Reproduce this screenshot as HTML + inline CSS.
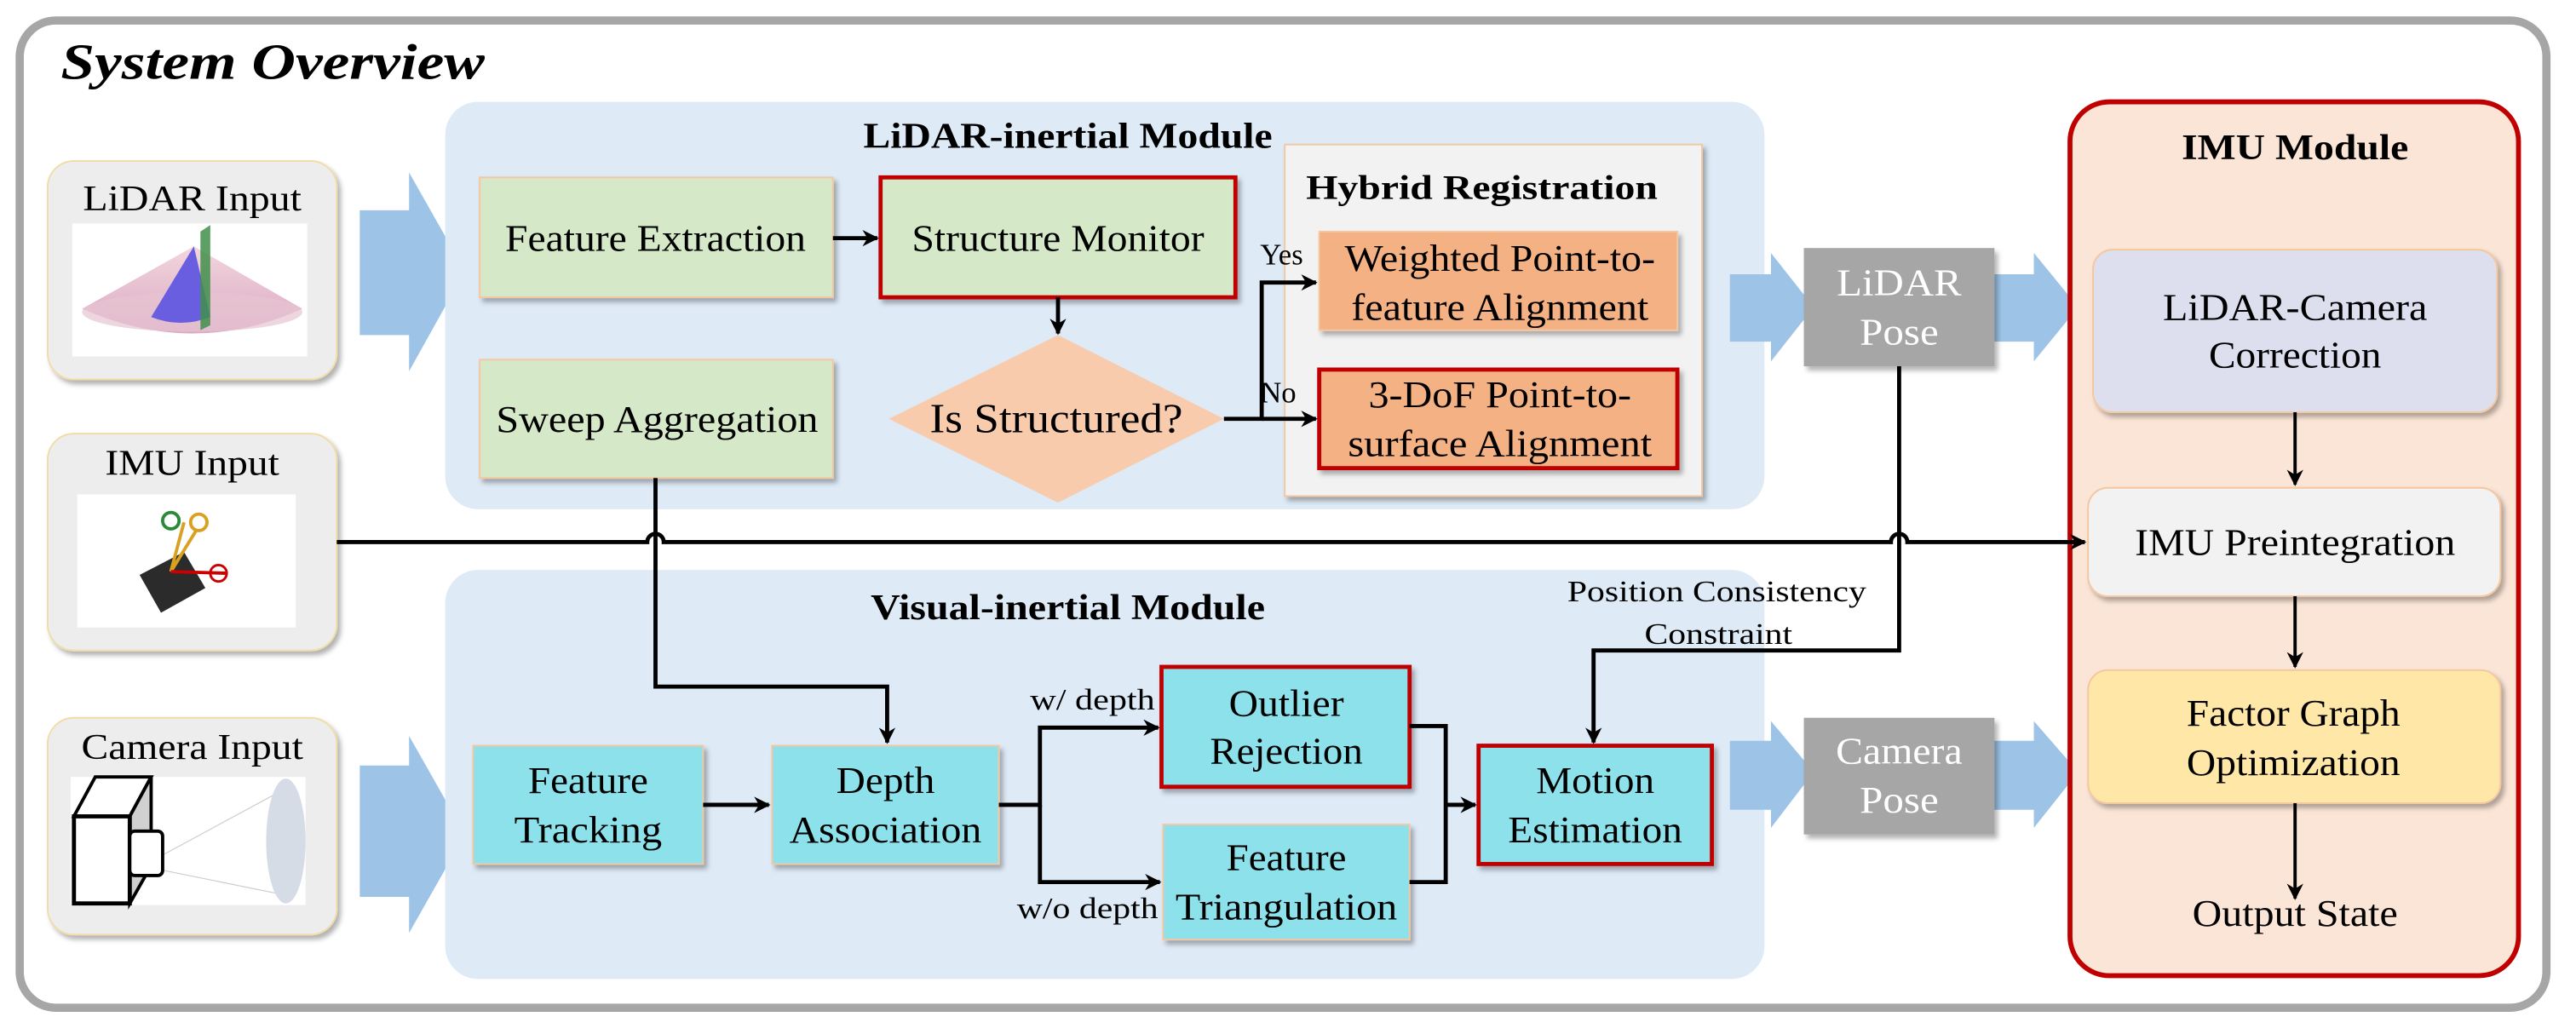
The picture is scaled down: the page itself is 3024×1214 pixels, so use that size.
<!DOCTYPE html>
<html><head><meta charset="utf-8"><style>
html,body{margin:0;padding:0;background:#fff;}
svg{display:block;font-family:"Liberation Serif","Times New Roman",serif;}
svg text{font-family:"Liberation Serif","Times New Roman",serif;fill:#000;}
</style></head><body>
<svg width="3024" height="1214" viewBox="0 0 1568 629.5" preserveAspectRatio="none" xmlns="http://www.w3.org/2000/svg" font-family="Liberation Serif, Times New Roman, serif" style="font-family:'Liberation Serif','Times New Roman',serif">
<defs>
<filter id="sh" x="-10%" y="-10%" width="130%" height="140%"><feDropShadow dx="2" dy="2.5" stdDeviation="1.5" flood-color="#000" flood-opacity="0.3"/></filter>
<marker id="ar" markerWidth="10" markerHeight="10" refX="9" refY="5" orient="auto" markerUnits="userSpaceOnUse"><path d="M0,0 L10,5 L0,10 L3,5 Z" fill="#000"/></marker>
<linearGradient id="cone" x1="0" y1="0" x2="0" y2="1"><stop offset="0" stop-color="#f3d6dc"/><stop offset="1" stop-color="#d9a9c4"/></linearGradient>
</defs>
<rect width="1568" height="629.5" fill="#fff"/>
<rect x="12" y="12.5" width="1538" height="601" rx="22" fill="#fff" stroke="#a6a6a6" stroke-width="5"/>
<text x="37" y="48" font-size="31" font-weight="bold" font-style="italic" textLength="258" lengthAdjust="spacingAndGlyphs">System Overview</text>

<g filter="url(#sh)">
<rect x="29" y="98" width="176" height="133" rx="16" fill="#ededed" stroke="#f2dca8" stroke-width="1"/>
<rect x="29" y="264" width="176" height="132" rx="16" fill="#ededed" stroke="#f2dca8" stroke-width="1"/>
<rect x="29" y="437" width="176" height="132" rx="16" fill="#ededed" stroke="#f2dca8" stroke-width="1"/>
</g>
<text x="117" y="121" font-size="22" text-anchor="middle" dominant-baseline="central" textLength="133" lengthAdjust="spacingAndGlyphs">LiDAR Input</text>
<text x="117" y="282" font-size="22" text-anchor="middle" dominant-baseline="central" textLength="106" lengthAdjust="spacingAndGlyphs">IMU Input</text>
<text x="117" y="455" font-size="22" text-anchor="middle" dominant-baseline="central" textLength="135" lengthAdjust="spacingAndGlyphs">Camera Input</text>
<rect x="44" y="136" width="143" height="81" fill="#fff"/>
<path d="M118 150 L50 188 Q118 218 184 188 Z" fill="url(#cone)"/>
<ellipse cx="117" cy="190" rx="67" ry="12" fill="#e7c4d2" opacity="0.7"/>
<path d="M118 150 L92 193 Q110 200 128 193 Z" fill="#6a5ee0"/>
<path d="M122 141 L128 137 L128 198 L122 201 Z" fill="#3f8f4a" opacity="0.85"/>
<rect x="47" y="301" width="133" height="81" fill="#fff"/>
<path d="M85 350 L112 336 L125 358 L98 373 Z" fill="#2b2b2b"/>
<path d="M104 348 L112 318 M104 348 L120 322" stroke="#d9a021" stroke-width="2" fill="none"/>
<path d="M104 348 L138 349" stroke="#c00" stroke-width="2"/>
<circle cx="104" cy="317" r="5" fill="none" stroke="#2a8a3a" stroke-width="2"/>
<circle cx="121" cy="318" r="5" fill="none" stroke="#d9a021" stroke-width="2"/>
<circle cx="133" cy="349" r="5" fill="none" stroke="#c00" stroke-width="1.5"/>
<rect x="43" y="473" width="143" height="78" fill="#fff"/>
<path d="M100 520 L174 480 M100 530 L174 545" stroke="#ccc" stroke-width="0.6"/>
<ellipse cx="174" cy="512" rx="12" ry="38" fill="#d6dce6"/>
<path d="M45 497 L58 473 L92 473 L79 497 Z" fill="#fff" stroke="#000" stroke-width="2"/>
<path d="M79 497 L92 473 L92 527 L79 550 Z" fill="#d0d0d0" stroke="#000" stroke-width="2"/>
<rect x="45" y="497" width="34" height="53" fill="#fff" stroke="#000" stroke-width="2.5"/>
<rect x="79" y="506" width="20" height="27" rx="3" fill="#fff" stroke="#000" stroke-width="2"/>

<path d="M219 128 H249 V105 L283 165 L249 226 V204 H219 Z" fill="#9dc3e6"/>
<path d="M219 466 H249 V448 L283 508 L249 568 V546 H219 Z" fill="#9dc3e6"/>

<rect x="271" y="62" width="803" height="248" rx="20" fill="#deeaf6"/>
<rect x="271" y="347" width="803" height="249" rx="20" fill="#deeaf6"/>
<text x="650" y="83" font-size="22" font-weight="bold" text-anchor="middle" dominant-baseline="central" textLength="249" lengthAdjust="spacingAndGlyphs">LiDAR-inertial Module</text>
<text x="650" y="370" font-size="22" font-weight="bold" text-anchor="middle" dominant-baseline="central" textLength="240" lengthAdjust="spacingAndGlyphs">Visual-inertial Module</text>

<rect x="782" y="88" width="254" height="214" fill="#f2f2f2" stroke="#f4c7a0" stroke-width="1" filter="url(#sh)"/>
<text x="902" y="114" font-size="21" font-weight="bold" text-anchor="middle" dominant-baseline="central" textLength="214" lengthAdjust="spacingAndGlyphs">Hybrid Registration</text>

<g filter="url(#sh)">
<rect x="292" y="108" width="215" height="73" fill="#d5e8c8" stroke="#f4c7a0" stroke-width="1"/>
<rect x="536" y="108" width="216" height="73" fill="#d5e8c8" stroke="#c00000" stroke-width="2.5"/>
<rect x="292" y="219" width="215" height="72" fill="#d5e8c8" stroke="#f4c7a0" stroke-width="1"/>
<rect x="803" y="141" width="218" height="60" fill="#f4b183" stroke="#f4c7a0" stroke-width="1"/>
<rect x="803" y="225" width="218" height="60" fill="#f4b183" stroke="#c00000" stroke-width="2.5"/>
</g>
<path d="M541 255 L644 204 L745 255 L644 306 Z" fill="#f8cbad"/>
<g font-size="23" text-anchor="middle" dominant-baseline="central">
<text x="399" y="145" textLength="183" lengthAdjust="spacingAndGlyphs">Feature Extraction</text>
<text x="644" y="145" textLength="178" lengthAdjust="spacingAndGlyphs">Structure Monitor</text>
<text x="400" y="255" textLength="196" lengthAdjust="spacingAndGlyphs">Sweep Aggregation</text>
<text x="643" y="255" font-size="25" textLength="154" lengthAdjust="spacingAndGlyphs">Is Structured?</text>
<text x="913" y="157" textLength="189" lengthAdjust="spacingAndGlyphs">Weighted Point-to-</text>
<text x="913" y="187" textLength="181" lengthAdjust="spacingAndGlyphs">feature Alignment</text>
<text x="913" y="240" textLength="160" lengthAdjust="spacingAndGlyphs">3-DoF Point-to-</text>
<text x="913" y="270" textLength="185" lengthAdjust="spacingAndGlyphs">surface Alignment</text>
</g>
<g stroke="#000" stroke-width="2.5" fill="none">
<path d="M507 145 H534" marker-end="url(#ar)"/>
<path d="M644 181 V203" marker-end="url(#ar)"/>
<path d="M745 255 H768 V172 H801" marker-end="url(#ar)"/>
<path d="M768 255 H801" marker-end="url(#ar)"/>
</g>
<text x="767" y="155" font-size="18" dominant-baseline="central">Yes</text>
<text x="767" y="239" font-size="18" dominant-baseline="central">No</text>

<path d="M1053 167 H1078 V154 L1104 187 L1078 220 V208 H1053 Z" fill="#9dc3e6"/>
<path d="M1210 167 H1238 V154 L1265 187 L1238 220 V208 H1210 Z" fill="#9dc3e6"/>
<path d="M1053 451 H1078 V439 L1104 470 L1078 504 V493 H1053 Z" fill="#9dc3e6"/>
<path d="M1210 451 H1238 V439 L1265 470 L1238 504 V493 H1210 Z" fill="#9dc3e6"/>
<g filter="url(#sh)">
<rect x="1098" y="151" width="116" height="72" fill="#a6a6a6"/>
<rect x="1098" y="437" width="116" height="71" fill="#a6a6a6"/>
</g>
<g font-size="23" text-anchor="middle" dominant-baseline="central">
<text x="1156" y="172" style="fill:#fff" textLength="76" lengthAdjust="spacingAndGlyphs">LiDAR</text>
<text x="1156" y="202" style="fill:#fff" textLength="48" lengthAdjust="spacingAndGlyphs">Pose</text>
<text x="1156" y="457" style="fill:#fff" textLength="77" lengthAdjust="spacingAndGlyphs">Camera</text>
<text x="1156" y="487" style="fill:#fff" textLength="48" lengthAdjust="spacingAndGlyphs">Pose</text>
</g>

<rect x="1260" y="62" width="273" height="532" rx="24" fill="#fbe5d6" stroke="#c00000" stroke-width="3"/>
<text x="1397" y="90" font-size="22" font-weight="bold" text-anchor="middle" dominant-baseline="central" textLength="138" lengthAdjust="spacingAndGlyphs">IMU Module</text>
<g filter="url(#sh)">
<rect x="1274" y="152" width="246" height="99" rx="12" fill="#dedfee" stroke="#f4c7a0" stroke-width="1"/>
<rect x="1271" y="297" width="251" height="66" rx="12" fill="#f2f2f2" stroke="#f4c7a0" stroke-width="1"/>
<rect x="1271" y="408" width="251" height="81" rx="12" fill="#ffe7a8" stroke="#f4c7a0" stroke-width="1"/>
</g>
<g font-size="23" text-anchor="middle" dominant-baseline="central">
<text x="1397" y="187" textLength="161" lengthAdjust="spacingAndGlyphs">LiDAR-Camera</text>
<text x="1397" y="216" textLength="105" lengthAdjust="spacingAndGlyphs">Correction</text>
<text x="1397" y="330" textLength="195" lengthAdjust="spacingAndGlyphs">IMU Preintegration</text>
<text x="1396" y="434" textLength="130" lengthAdjust="spacingAndGlyphs">Factor Graph</text>
<text x="1396" y="464" textLength="130" lengthAdjust="spacingAndGlyphs">Optimization</text>
<text x="1397" y="556" textLength="125" lengthAdjust="spacingAndGlyphs">Output State</text>
</g>
<g stroke="#000" stroke-width="2" fill="none">
<path d="M1397 251 V295" marker-end="url(#ar)"/>
<path d="M1397 363 V406" marker-end="url(#ar)"/>
<path d="M1397 489 V547" marker-end="url(#ar)"/>
</g>

<g filter="url(#sh)">
<rect x="288" y="454" width="140" height="72" fill="#8de1ea" stroke="#f4c7a0" stroke-width="1"/>
<rect x="470" y="454" width="138" height="72" fill="#8de1ea" stroke="#f4c7a0" stroke-width="1"/>
<rect x="707" y="406" width="151" height="73" fill="#8de1ea" stroke="#c00000" stroke-width="2.5"/>
<rect x="708" y="502" width="150" height="70" fill="#8de1ea" stroke="#f4c7a0" stroke-width="1"/>
<rect x="900" y="454" width="142" height="72" fill="#8de1ea" stroke="#c00000" stroke-width="2.5"/>
</g>
<g font-size="23" text-anchor="middle" dominant-baseline="central">
<text x="358" y="475" textLength="73" lengthAdjust="spacingAndGlyphs">Feature</text>
<text x="358" y="505" textLength="90" lengthAdjust="spacingAndGlyphs">Tracking</text>
<text x="539" y="475" textLength="60" lengthAdjust="spacingAndGlyphs">Depth</text>
<text x="539" y="505" textLength="117" lengthAdjust="spacingAndGlyphs">Association</text>
<text x="783" y="428" textLength="70" lengthAdjust="spacingAndGlyphs">Outlier</text>
<text x="783" y="457" textLength="93" lengthAdjust="spacingAndGlyphs">Rejection</text>
<text x="783" y="522" textLength="73" lengthAdjust="spacingAndGlyphs">Feature</text>
<text x="783" y="552" textLength="135" lengthAdjust="spacingAndGlyphs">Triangulation</text>
<text x="971" y="475" textLength="72" lengthAdjust="spacingAndGlyphs">Motion</text>
<text x="971" y="505" textLength="106" lengthAdjust="spacingAndGlyphs">Estimation</text>
</g>
<g font-size="18" text-anchor="middle" dominant-baseline="central">
<text x="665" y="426" textLength="76" lengthAdjust="spacingAndGlyphs">w/ depth</text>
<text x="662" y="553" textLength="86" lengthAdjust="spacingAndGlyphs">w/o depth</text>
<text x="1045" y="360" textLength="182" lengthAdjust="spacingAndGlyphs">Position Consistency</text>
<text x="1046" y="386" textLength="90" lengthAdjust="spacingAndGlyphs">Constraint</text>
</g>
<g stroke="#000" stroke-width="2.5" fill="none">
<path d="M428 490 H468" marker-end="url(#ar)"/>
<path d="M608 490 H633 V443 H705" marker-end="url(#ar)"/>
<path d="M633 490 V537 H706" marker-end="url(#ar)"/>
<path d="M858 442 H880 V537 H858"/>
<path d="M880 490 H898" marker-end="url(#ar)"/>
<path d="M399 291 V418 H540 V452" marker-end="url(#ar)"/>
<path d="M1156 223 V396 H970 V452" marker-end="url(#ar)"/>
<path d="M205 330 H394 A5 5 0 0 1 404 330 H1151 A5 5 0 0 1 1161 330 H1269" marker-end="url(#ar)"/>
</g>
</svg>
</body></html>
